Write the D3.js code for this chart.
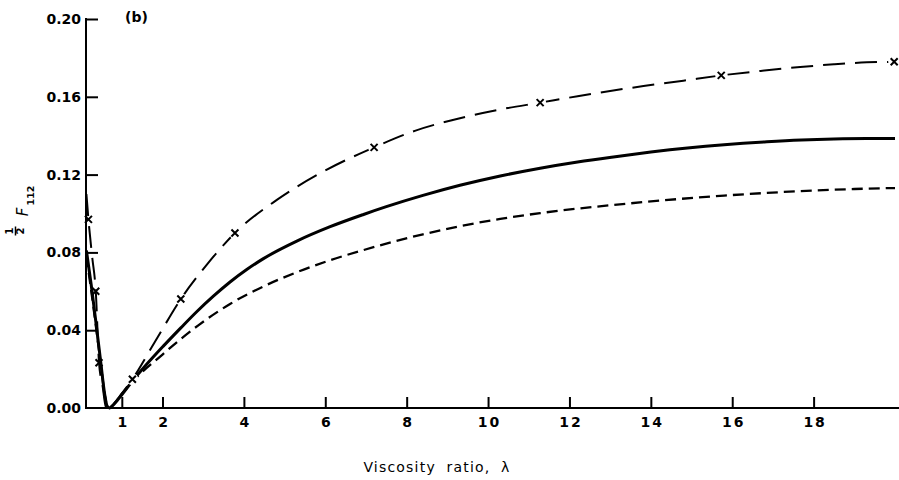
<!DOCTYPE html>
<html>
<head>
<meta charset="utf-8">
<script src="https://cdn.jsdelivr.net/npm/d3@7"></script>
<style>
  html, body { margin: 0; padding: 0; background: #fff; }
  svg { display: block; }
  text { fill: #000; }
</style>
</head>
<body>
<svg id="chart" width="899" height="480"></svg>
<script>
// Tick values
const lambdaTicks = [1, 2, 4, 6, 8, 10, 12, 14, 16, 18];
const fTicks = [0, 0.04, 0.08, 0.12, 0.16, 0.20];

// Solid curve
const solidLambda = [0.13, 0.25, 0.37, 0.48, 0.58, 0.64, 0.70, 0.76, 0.9, 1.0, 1.26, 1.6, 2.02, 2.45, 2.84, 3.25, 3.66, 4.07, 4.48, 5.3, 6.12, 6.94, 7.5, 8.4, 9.31, 10.3, 11.28, 12.2, 13.08, 14.0, 14.9, 15.8, 16.85, 17.7, 18.5, 19.3, 20];
const solidF      = [0.081, 0.063, 0.043, 0.024, 0.007, 0.001, 0.0, 0.001, 0.0042, 0.0068, 0.0138, 0.0222, 0.0318, 0.0412, 0.0495, 0.0575, 0.0648, 0.0712, 0.0768, 0.0858, 0.0932, 0.0995, 0.1035, 0.1093, 0.1145, 0.1193, 0.1233, 0.1265, 0.1291, 0.1316, 0.1337, 0.1354, 0.1369, 0.1378, 0.1383, 0.1385, 0.1385];

// Short-dashed curve
const shortLambda = [0.13, 0.25, 0.37, 0.48, 0.58, 0.64, 0.70, 0.76, 1.0, 1.26, 2.0, 2.88, 3.66, 4.48, 5.3, 6.12, 6.94, 7.5, 8.4, 9.31, 10.3, 11.28, 12.2, 13.08, 14.0, 14.72, 15.8, 16.85, 18.0, 19.0, 20];
const shortF      = [0.078, 0.060, 0.041, 0.023, 0.007, 0.001, 0.0, 0.001, 0.0072, 0.0135, 0.0275, 0.0425, 0.0535, 0.0625, 0.0698, 0.0760, 0.0812, 0.0845, 0.0893, 0.0935, 0.0972, 0.1002, 0.1025, 0.1044, 0.1062, 0.1075, 0.1092, 0.1106, 0.1118, 0.1126, 0.1131];

// Long-dashed curve
const longLambda = [0.13, 0.18, 0.27, 0.36, 0.44, 0.53, 0.61, 0.68, 0.75, 1.0, 1.26, 1.8, 2.45, 3.1, 3.78, 4.81, 5.9, 7.2, 8.2, 9.31, 10.3, 11.28, 12.2, 13.0, 13.82, 14.8, 15.73, 16.7, 17.67, 18.5, 19.31, 19.98];
const longF      = [0.110, 0.097, 0.078, 0.060, 0.0233, 0.011, 0.0005, 0.0, 0.001, 0.0075, 0.0148, 0.0335, 0.056, 0.074, 0.090, 0.107, 0.121, 0.134, 0.1425, 0.149, 0.1535, 0.157, 0.1603, 0.163, 0.1655, 0.1683, 0.171, 0.1733, 0.1753, 0.1767, 0.1777, 0.178];

// Marked points on the long-dashed curve
const markLambda = [0.18, 0.36, 0.44, 1.26, 2.45, 3.78, 7.2, 11.28, 15.73, 19.98];
const markF      = [0.097, 0.060, 0.0233, 0.0148, 0.056, 0.090, 0.134, 0.157, 0.171, 0.178];

const svg = d3.select("#chart");
const FONT = "'DejaVu Sans', sans-serif";

const x = d3.scaleLinear().domain([0.12, 20]).range([86, 895]);
const y = d3.scaleLinear().domain([0, 0.20]).range([408, 19]);

const zip = (xs, ys) => xs.map((v, i) => [v, ys[i]]);
const line = d3.line()
  .x(d => x(d[0]))
  .y(d => y(d[1]))
  .curve(d3.curveMonotoneX);

// Axes
const xAxis = d3.axisBottom(x).tickValues(lambdaTicks).tickSize(0).tickPadding(0)
  .tickFormat(d3.format("d"));
const gx = svg.append("g").attr("transform", `translate(0,${y(0)})`).call(xAxis);
gx.select(".domain").remove();
gx.selectAll(".tick text")
  .attr("y", 19)
  .attr("dy", 0)
  .style("font-family", FONT)
  .style("font-weight", "bold")
  .style("font-size", "14px")
  .style("letter-spacing", d => d >= 10 ? "2px" : "0px")
  .attr("dx", d => d >= 10 ? 1 : 0);
gx.selectAll(".tick").append("line")
  .attr("y1", 0).attr("y2", -11)
  .attr("stroke", "#000").attr("stroke-width", 2);

svg.append("line")
  .attr("x1", x.range()[0]).attr("x2", 899)
  .attr("y1", y(0)).attr("y2", y(0))
  .attr("stroke", "#000").attr("stroke-width", 2);

const yAxis = d3.axisLeft(y).tickValues(fTicks).tickSize(0).tickPadding(5)
  .tickFormat(d3.format(".2f"));
const gy = svg.append("g").attr("transform", `translate(${x.range()[0]},0)`).call(yAxis);
gy.select(".domain").remove();
gy.selectAll(".tick text")
  .style("font-family", FONT)
  .style("font-weight", "bold")
  .style("font-size", "14px");
gy.selectAll(".tick").filter(d => d > 0).append("line")
  .attr("x1", 0).attr("x2", 12)
  .attr("stroke", "#000").attr("stroke-width", 2);

svg.append("line")
  .attr("x1", x.range()[0]).attr("x2", x.range()[0])
  .attr("y1", y(0.20) - 1).attr("y2", y(0) + 1)
  .attr("stroke", "#000").attr("stroke-width", 2);

// Curves
svg.append("path")
  .datum(zip(shortLambda, shortF))
  .attr("d", line)
  .attr("fill", "none").attr("stroke", "#000")
  .attr("stroke-width", 2.3)
  .attr("stroke-dasharray", "11,6");

svg.append("path")
  .datum(zip(solidLambda, solidF))
  .attr("d", line)
  .attr("fill", "none").attr("stroke", "#000")
  .attr("stroke-width", 3);

svg.append("path")
  .datum(zip(longLambda, longF))
  .attr("d", line)
  .attr("fill", "none").attr("stroke", "#000")
  .attr("stroke-width", 2)
  .attr("stroke-dasharray", "22,10");

// Cross markers with a small white gap around them
const marks = svg.append("g").selectAll("g")
  .data(zip(markLambda, markF))
  .join("g")
  .attr("transform", d => `translate(${x(d[0])},${y(d[1])})`);
marks.filter(d => d[0] > 1).append("circle").attr("r", 6).attr("fill", "#fff");
marks.append("path")
  .attr("d", "M-3.5,-3.5L3.5,3.5M3.5,-3.5L-3.5,3.5")
  .attr("stroke", "#000").attr("stroke-width", 2).attr("fill", "none");

// Panel letter
svg.append("text")
  .attr("x", 125).attr("y", 22)
  .style("font-family", FONT).style("font-weight", "bold").style("font-size", "14px")
  .text("(b)");

// x-axis title
svg.append("text")
  .attr("x", 437).attr("y", 472)
  .attr("text-anchor", "middle")
  .style("font-family", FONT).style("font-size", "14px")
  .style("letter-spacing", "1.2px").style("word-spacing", "5px")
  .text("Viscosity ratio, λ");

// y-axis title: ½ F₁₁₂, set vertically
const yt = svg.append("g").style("font-family", FONT);
yt.append("text").attr("transform", "translate(13,231) rotate(-90)")
  .attr("text-anchor", "middle").style("font-size", "10px").style("font-weight", "bold").text("1");
yt.append("line").attr("x1", 15.5).attr("x2", 15.5).attr("y1", 226.5).attr("y2", 235.5)
  .attr("stroke", "#000").attr("stroke-width", 1.5);
yt.append("text").attr("transform", "translate(24,231) rotate(-90)")
  .attr("text-anchor", "middle").style("font-size", "10px").style("font-weight", "bold").text("2");
yt.append("text").attr("transform", "translate(28,212) rotate(-90)")
  .attr("text-anchor", "middle").style("font-size", "15px").style("font-style", "italic").text("F");
yt.append("text").attr("transform", "translate(33.5,195.5) rotate(-90)")
  .attr("text-anchor", "middle").style("font-size", "9.5px").style("font-weight", "bold").text("112");
</script>
</body>
</html>
